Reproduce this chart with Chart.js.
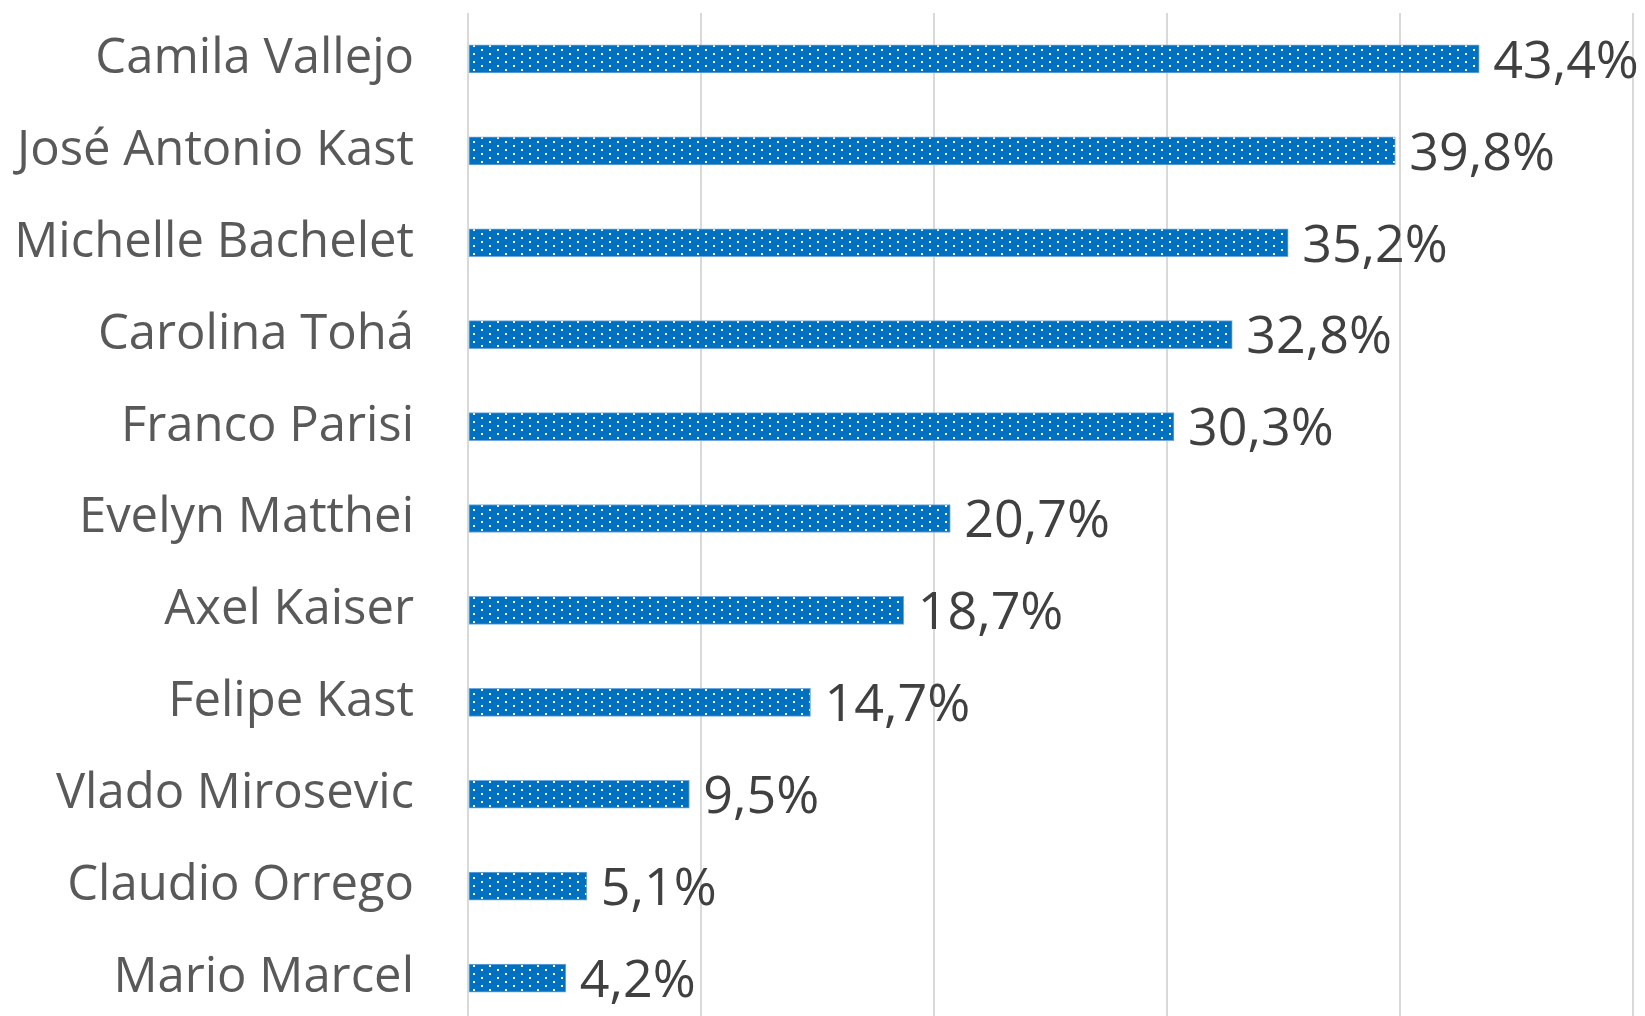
<!DOCTYPE html>
<html>
<head>
<meta charset="utf-8">
<script src="https://cdn.jsdelivr.net/npm/chart.js@4"></script>
<style>
  html, body { margin: 0; padding: 0; background: #fff; overflow: hidden; }
  canvas { display: block; }
</style>
</head>
<body>
<canvas id="pollChart" width="1645" height="1024"></canvas>
<script>
// ---- data ----
const names = [
  'Camila Vallejo', 'José Antonio Kast', 'Michelle Bachelet', 'Carolina Tohá',
  'Franco Parisi', 'Evelyn Matthei', 'Axel Kaiser', 'Felipe Kast',
  'Vlado Mirosevic', 'Claudio Orrego', 'Mario Marcel'
];
const approval = [43.4, 39.8, 35.2, 32.8, 30.3, 20.7, 18.7, 14.7, 9.5, 5.1, 4.2];
const valueLabels = ['43,4%', '39,8%', '35,2%', '32,8%', '30,3%', '20,7%', '18,7%', '14,7%', '9,5%', '5,1%', '4,2%'];
const gridTicks = [0, 10, 20, 30, 40, 50];

const FONT = '"Open Sans", "Noto Sans", sans-serif';

// dotted fill like the office "5%" pattern
function dotPattern() {
  const c = document.createElement('canvas');
  c.width = 16; c.height = 8;
  const g = c.getContext('2d');
  g.fillStyle = '#0070C0';
  g.fillRect(0, 0, 16, 8);
  g.fillStyle = '#ffffff';
  g.fillRect(1, 1, 2, 2);
  g.fillRect(9, 5, 2, 2);
  return g.createPattern(c, 'repeat');
}

// value labels at the end of each bar
const endLabels = {
  id: 'endLabels',
  afterDatasetsDraw(chart) {
    const ctx = chart.ctx;
    const meta = chart.getDatasetMeta(0);
    ctx.save();
    ctx.font = '52px ' + FONT;
    ctx.fillStyle = '#404040';
    ctx.textAlign = 'left';
    ctx.textBaseline = 'middle';
    meta.data.forEach((bar, i) => {
      ctx.fillText(valueLabels[i], bar.x + 14, bar.y + 4);
    });
    ctx.restore();
  }
};

const canvas = document.getElementById('pollChart');
new Chart(canvas, {
  type: 'bar',
  data: {
    labels: names,
    datasets: [{
      data: approval,
      backgroundColor: dotPattern(),
      borderColor: '#6FA8DC',
      borderWidth: 1,
      borderSkipped: false,
      barThickness: 28
    }]
  },
  options: {
    indexAxis: 'y',
    responsive: false,
    animation: false,
    layout: { padding: { top: 13, right: 12, bottom: 0, left: 0 } },
    plugins: { legend: { display: false }, tooltip: { enabled: false } },
    scales: {
      x: {
        min: 0, max: 50,
        afterBuildTicks: (s) => { s.ticks = gridTicks.map(v => ({ value: v })); },
        afterFit: (s) => { s.height = 0; s.paddingLeft = 0; s.paddingRight = 0; },
        ticks: { display: false },
        grid: { color: '#D9D9D9', lineWidth: 2, drawTicks: false },
        border: { display: false }
      },
      y: {
        // tick padding would otherwise also pad the top and bottom of the plot
        afterFit: (s) => { s.width = 468; s.paddingTop = 0; s.paddingBottom = 0; },
        grid: { display: false, drawTicks: false },
        border: { display: false },
        ticks: {
          color: '#595959',
          padding: 54,
          font: { family: FONT, size: 49 }
        }
      }
    }
  },
  plugins: [endLabels]
});
</script>
</body>
</html>
